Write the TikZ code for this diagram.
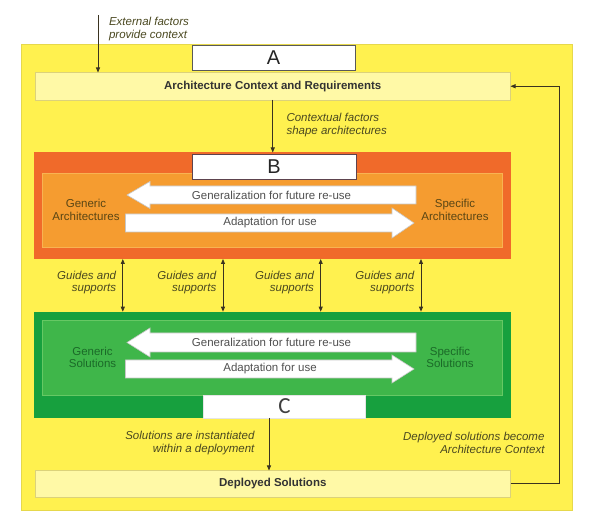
\documentclass[tikz,border=0pt]{standalone}
\usepackage{fontspec}
\setmainfont{Liberation Sans}
\newfontfamily\carlito{Carlito}
\usetikzlibrary{arrows.meta}
\definecolor{bgyellow}{HTML}{FFF14F}
\definecolor{bgedge}{HTML}{E6D84C}
\definecolor{barfill}{HTML}{FFF9A6}
\definecolor{baredge}{HTML}{DCD27A}
\definecolor{orout}{HTML}{F06A2A}
\definecolor{orin}{HTML}{F59C30}
\definecolor{orinedge}{HTML}{F8B352}
\definecolor{grout}{HTML}{17A03E}
\definecolor{grin}{HTML}{3FB64A}
\definecolor{grinedge}{HTML}{66C864}
\definecolor{lbltext}{HTML}{4A4820}
\definecolor{ortext}{HTML}{5A4614}
\definecolor{grtext}{HTML}{1B6A28}
\definecolor{arrtext}{HTML}{505050}
\definecolor{lineclr}{HTML}{3A3320}
\begin{document}
\begin{tikzpicture}[x=1pt,y=-1pt,
  every node/.style={font=\fontsize{11.5}{12.5}\selectfont},
  plain/.style={rectangle, inner sep=0pt, outer sep=0pt},
  bgbox/.style={plain, fill=bgyellow, draw=bgedge, line width=1pt},
  barbox/.style={plain, fill=barfill, draw=baredge, line width=0.6pt, text=black!80, font=\fontsize{11.5}{12.5}\selectfont\bfseries},
  letterbox/.style={plain, fill=white, draw=black!65, line width=0.8pt, text=black!85, font=\fontsize{20}{20}\selectfont},
  cbox/.style={plain, fill=white, draw=black!10, line width=0.5pt, text=black!75, font=\carlito\fontsize{23}{23}\selectfont},
  orouter/.style={plain, fill=orout},
  orinner/.style={plain, fill=orin, draw=orinedge, line width=0.8pt},
  grouter/.style={plain, fill=grout},
  grinner/.style={plain, fill=grin, draw=grinedge, line width=0.8pt},
  ortxt/.style={align=center, text=ortext},
  grtxt/.style={align=center, text=grtext},
  blockarrow/.style={fill=white, draw=black!22, line width=0.6pt},
  arrtxt/.style={text=arrtext},
  lbl/.style={text=lbltext, font=\fontsize{11.5}{12.5}\selectfont\itshape},
  conn/.style={draw=lineclr, line width=0.8pt, -{Triangle[length=5pt,width=4pt]}},
  dconn/.style={draw=lineclr, line width=0.8pt, {Triangle[length=5pt,width=4pt]}-{Triangle[length=5pt,width=4pt]}}
]
\useasboundingbox (0,0) rectangle (611,529);

% background
\node[bgbox, minimum width=550.6pt, minimum height=465.5pt] (bg) at (296.7,277.75) {};

% top
\node[letterbox, minimum width=162.7pt, minimum height=25pt] (A) at (273.6,58) {A};
\node[barbox, minimum width=475.5pt, minimum height=27.5pt] (arch) at (272.75,86.25) {Architecture Context and Requirements};

% orange region
\node[orouter, minimum width=476.5pt, minimum height=106.5pt] (orO) at (272.25,205.75) {};
\node[orinner, minimum width=460pt, minimum height=74pt] (orI) at (272,210) {};
\node[letterbox, draw=black!55!magenta!60!black, minimum width=164pt, minimum height=25pt] (B) at (274,166.5) {B};
\draw[blockarrow] (127,195) -- (150,181.5) -- (150,186) -- (416,186) -- (416,204) -- (150,204) -- (150,208.5) -- cycle;
\draw[blockarrow] (414,223) -- (392,208) -- (392,214) -- (125.5,214) -- (125.5,232) -- (392,232) -- (392,238) -- cycle;
\node[arrtxt] (og) at (271.5,195) {Generalization for future re-use};
\node[arrtxt] (oa) at (270,223) {Adaptation for use};
\node[ortxt] (ga) at (86,210) {Generic\\Architectures};
\node[ortxt] (sa) at (455,210) {Specific\\Architectures};

% green region
\node[grouter, minimum width=476.5pt, minimum height=106.3pt] (grO) at (272.25,364.85) {};
\node[grinner, minimum width=460pt, minimum height=74.3pt] (grI) at (272,357.85) {};
\node[cbox, minimum width=162pt, minimum height=23pt] (C) at (284.45,406.5) {C};
\draw[blockarrow] (127,342.5) -- (150,328) -- (150,333) -- (416,333) -- (416,352) -- (150,352) -- (150,357) -- cycle;
\draw[blockarrow] (414,369) -- (392,355) -- (392,360) -- (125.5,360) -- (125.5,378) -- (392,378) -- (392,383) -- cycle;
\node[arrtxt] (gg) at (271.5,342.5) {Generalization for future re-use};
\node[arrtxt] (gad) at (270,369) {Adaptation for use};
\node[grtxt] (gs) at (92.5,357.5) {Generic\\Solutions};
\node[grtxt] (ss) at (450,357.5) {Specific\\Solutions};

% bottom bar
\node[barbox, minimum width=475.5pt, minimum height=26.5pt] (dep) at (272.75,483.75) {Deployed Solutions};

% connectors
\coordinate (ext) at (98,15);
\draw[conn] (ext) -- (ext |- arch.north);
\node[lbl, align=left, anchor=west] (extl) at (105.5,29) {External factors\\provide context};

\draw[conn] (arch.south) -- (arch.south |- orO.north);
\node[lbl, align=left, anchor=west] (ctxl) at (283,125) {Contextual factors\\shape architectures};

\coordinate (g1) at (122.8,0);
\coordinate (g2) at (223,0);
\coordinate (g3) at (320.7,0);
\coordinate (g4) at (421,0);
\foreach \g in {g1,g2,g3,g4}{
  \draw[dconn] (orO.south -| \g) -- node[lbl, pos=0.45, left=3pt, align=right] {Guides and\\supports} (grO.north -| \g);
}

\coordinate (solx) at (269,0);
\draw[conn] (C.south -| solx) -- (dep.north -| solx);
\node[lbl, align=right, anchor=east] (soll) at (258,443) {Solutions are instantiated\\within a deployment};
\node[lbl, align=right, anchor=east] (depl) at (548,443) {Deployed solutions become\\Architecture Context};

\draw[conn] (dep.east) -- ++(49,0) |- (arch.east);
\end{tikzpicture}
\end{document}
